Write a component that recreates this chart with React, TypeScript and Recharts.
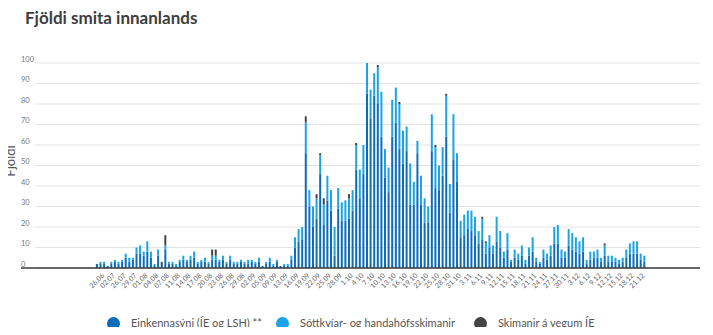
import { BarChart, Bar, XAxis, YAxis, CartesianGrid } from "recharts";

const days = [
  "26.06", "28.06", "30.06", "02.07", "15.07", "23.07", "26.07", "27.07", "28.07", "29.07",
  "30.07", "31.07", "01.08", "02.08", "03.08", "04.08", "05.08", "06.08", "07.08", "08.08",
  "10.08", "11.08", "12.08", "13.08", "14.08", "15.08", "16.08", "17.08", "18.08", "19.08",
  "20.08", "21.08", "22.08", "23.08", "24.08", "25.08", "26.08", "27.08", "28.08", "29.08",
  "31.08", "01.09", "02.09", "03.09", "04.09", "05.09", "07.09", "08.09", "09.09", "10.09",
  "11.09", "13.09", "14.09", "15.09",
  "16.09", "17.09", "18.09", "19.09", "20.09", "21.09", "22.09", "23.09", "24.09", "25.09",
  "26.09", "27.09", "28.09", "29.09", "30.09",
  "1.10", "2.10", "3.10", "4.10", "5.10", "6.10", "7.10", "8.10", "9.10", "10.10",
  "11.10", "12.10", "13.10", "14.10", "15.10", "16.10", "17.10", "18.10", "19.10", "20.10",
  "21.10", "22.10", "23.10", "24.10", "25.10", "26.10", "27.10", "28.10", "29.10", "30.10", "31.10",
  "1.11", "2.11", "3.11", "4.11", "5.11", "6.11", "7.11", "8.11", "9.11", "10.11",
  "11.11", "12.11", "13.11", "14.11", "15.11", "16.11", "17.11", "18.11", "19.11", "20.11",
  "21.11", "22.11", "23.11", "24.11", "25.11", "26.11", "27.11", "28.11", "29.11", "30.11",
  "1.12", "2.12", "3.12", "4.12", "5.12", "6.12", "7.12", "8.12", "9.12", "10.12",
  "11.12", "12.12", "13.12", "14.12", "15.12", "16.12", "17.12", "18.12", "19.12", "20.12",
  "21.12", "22.12", "23.12",
];

// Einkennasýni (ÍE og LSH) **
const einkennasyni = [
  2, 2, 2, 1, 2, 3, 2, 3, 5, 3, 4,
  7, 7, 6, 8, 5, 1, 6, 1, 9, 2, 2, 1, 3, 4, 3, 4, 5, 2, 3, 3, 2, 4, 4, 3, 4, 2, 4, 2, 2,
  3, 2, 2, 3, 2, 3, 1, 2, 3, 1, 3, 1, 1, 1,
  4, 10, 13, 14, 56, 30, 20, 24, 46, 21, 33, 28, 6, 29, 23, 23, 24, 28, 48, 34,
  46, 85, 73, 84, 80, 64, 44, 37, 64, 71, 58, 51, 57, 31, 31, 56, 31, 22, 22, 57,
  39, 38, 45, 64, 27, 53, 42, 15, 16, 19, 18, 16, 12,
  14, 7, 10, 7, 13, 10, 5, 9, 3, 5, 4, 6, 2, 6, 8, 3, 2, 5, 4, 6,
  12, 12, 5, 5, 11, 9, 8, 7, 8, 2, 4, 5, 5, 3, 6, 3, 3, 3, 2, 3,
  5, 7, 7, 7, 4, 3,
];

// Sóttkvíar- og handahófsskimanir
const sottkvi = [
  0, 1, 1, 0, 1, 1, 1, 1, 2, 2, 1,
  3, 4, 2, 5, 3, 1, 3, 0, 2, 1, 1, 1, 1, 2, 1, 2, 3, 1, 1, 2, 1, 2, 2, 1, 2, 1, 2, 1, 1,
  1, 1, 2, 1, 1, 2, 0, 1, 2, 1, 1, 0, 1, 1,
  2, 5, 6, 6, 15, 8, 10, 10, 9, 10, 12, 10, 14, 10, 9, 10, 10, 10, 12, 14,
  14, 15, 14, 11, 18, 22, 14, 12, 18, 17, 22, 16, 12, 20, 11, 6, 14, 12, 8, 18,
  20, 12, 14, 20, 14, 22, 14, 8, 10, 9, 10, 9, 6,
  10, 5, 6, 4, 12, 8, 3, 8, 1, 4, 3, 5, 2, 4, 7, 2, 1, 4, 3, 5,
  8, 9, 4, 3, 8, 8, 7, 6, 7, 2, 4, 3, 4, 2, 5, 3, 3, 2, 2, 2,
  4, 5, 6, 6, 3, 3,
];

// Skimanir á vegum ÍE
const skimanirIE = [
  0, 0, 0, 0, 0, 0, 0, 0, 0, 0,
  0, 0, 0, 0, 0, 0, 0, 0, 2, 5,
  0, 0, 0, 0, 0, 0, 0, 0, 0, 0,
  0, 0, 3, 3, 0, 0, 0, 0, 0, 0,
  0, 0, 0, 0, 0, 0, 0, 0, 0, 0,
  0, 0, 0, 0, 0, 0, 0, 0, 3, 0,
  0, 2, 1, 3, 0, 0, 0, 0, 0, 0,
  2, 0, 1, 0, 0, 0, 0, 0, 1, 0,
  0, 0, 0, 0, 1, 0, 0, 0, 0, 0,
  0, 0, 0, 0, 1, 0, 0, 1, 0, 0,
  0, 0, 0, 0, 0, 0, 0, 1, 1, 0,
  0, 0, 0, 0, 0, 0, 0, 0, 0, 0,
  0, 0, 0, 0, 0, 0, 0, 0, 0, 0,
  0, 0, 0, 0, 0, 0, 0, 0, 0, 0,
  0, 1, 0, 0, 0, 0, 0, 0, 0, 0,
  0, 0, 0,
];

const yTicks = [0, 10, 20, 30, 40, 50, 60, 70, 80, 90, 100];

const series = [
  { key: "einkennasyni", name: "Einkennasýni (ÍE og LSH) **", color: "#0b6cbc" },
  { key: "sottkvi", name: "Sóttkvíar- og handahófsskimanir", color: "#1ba3e6" },
  { key: "skimanirIE", name: "Skimanir á vegum ÍE", color: "#444444" },
];

const data = days.map((d, i) => ({
  day: d,
  einkennasyni: einkennasyni[i],
  sottkvi: sottkvi[i],
  skimanirIE: skimanirIE[i],
}));

const FONT = "Lato, 'Noto Sans', sans-serif";

const XTick = (props: any) => {
  const { x, y, payload } = props;
  const ax = x + 8;
  const ay = y + 8;
  return (
    <text
      x={ax}
      y={ay}
      transform={`rotate(-45 ${ax} ${ay})`}
      textAnchor="end"
      fontSize={7}
      fill="#666"
      fontFamily={FONT}
    >
      {payload.value}
    </text>
  );
};

const YTick = (props: any) => {
  const { x, y, payload } = props;
  return (
    <text x={x} y={y - 1.5} textAnchor="start" fontSize={7.5} fill="#777" fontFamily={FONT}>
      {payload.value}
    </text>
  );
};

const gridLine = (p: any) => (
  <line
    key={`grid-${p.index}-${p.y1}`}
    x1={p.x1 + 14}
    y1={p.y1}
    x2={p.x2}
    y2={p.y2}
    stroke="#e3e3e3"
    strokeWidth={1}
  />
);

export default function App() {
  return (
    <div style={{ position: "relative", width: 697, height: 319, fontFamily: FONT }}>
      <div
        style={{
          position: "absolute",
          left: 17,
          top: 0,
          fontSize: 17,
          fontWeight: 700,
          color: "#3d3d3d",
          lineHeight: "20px",
        }}
      >
        Fjöldi smita innanlands
      </div>
      <div
        style={{
          position: "absolute",
          left: 2,
          top: 153,
          transform: "translate(-50%, -50%) rotate(-90deg)",
          fontSize: 13,
          color: "#555",
          whiteSpace: "nowrap",
        }}
      >
        Fjöldi
      </div>

      <BarChart
        width={697}
        height={300}
        data={data}
        margin={{ top: 55, right: 5, left: 12, bottom: 0 }}
        barCategoryGap="25%"
      >
        <CartesianGrid vertical={false} horizontal={gridLine} />
        <XAxis
          dataKey="day"
          interval={2}
          height={40}
          tickSize={0}
          tickMargin={0}
          tickLine={false}
          axisLine={{ stroke: "#3a3a3a", strokeWidth: 1.5 }}
          padding={{ left: 74, right: 54 }}
          tick={<XTick />}
        />
        <YAxis
          width={1}
          domain={[0, 100]}
          ticks={yTicks}
          interval={0}
          tickSize={0}
          tickMargin={0}
          axisLine={false}
          tickLine={false}
          tick={<YTick />}
        />
        {series.map((s) => (
          <Bar
            key={s.key}
            dataKey={s.key}
            name={s.name}
            stackId="smit"
            fill={s.color}
            isAnimationActive={false}
          />
        ))}
      </BarChart>

      {series.map((s, i) => {
        const cx = [105, 274, 472][i];
        return (
          <div key={s.key}>
            <div
              style={{
                position: "absolute",
                left: cx - 6.5,
                top: 308.5,
                width: 13,
                height: 13,
                borderRadius: "50%",
                background: s.color,
              }}
            />
            <div
              style={{
                position: "absolute",
                left: cx + 18,
                top: 307,
                fontSize: 11,
                lineHeight: "16px",
                color: "#555",
                whiteSpace: "nowrap",
              }}
            >
              {s.name}
            </div>
          </div>
        );
      })}
    </div>
  );
}
